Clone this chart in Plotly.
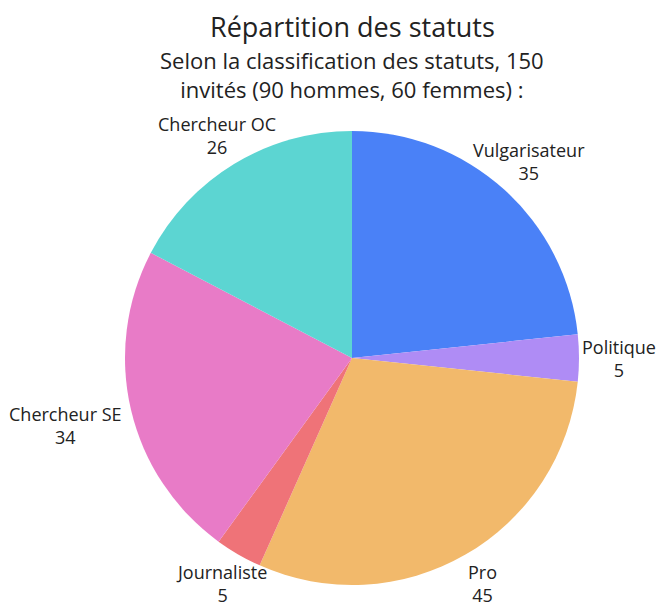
import math
import plotly.graph_objects as go

labels = ["Vulgarisateur", "Politique", "Pro", "Journaliste", "Chercheur SE", "Chercheur OC"]
values = [35, 5, 45, 5, 34, 26]
colors = ["#4A81F7", "#AF8CF5", "#F2B96B", "#EF7378", "#E87BC7", "#5CD5D2"]

title = "Répartition des statuts"
subtitle = "Selon la classification des statuts, 150<br>invités (90 hommes, 60 femmes) :"

FIG_W, FIG_H = 659, 612
T, B, L, R = 131, 27, 125, 80
W = FIG_W - L - R
H = FIG_H - T - B
radius = min(W, H) / 2
FS = 18


def text_width(s, size):
    narrow = {"i": .26, "l": .26, "j": .26, "J": .27, "t": .34, "f": .33, "r": .41, " ": .26, "s": .48}
    caps = {"C": .63, "O": .78, "S": .55, "E": .56, "P": .6, "V": .6}
    w = 0
    for ch in s:
        w += narrow.get(ch, caps.get(ch, .58))
    return w * size


fig = go.Figure(go.Pie(
    labels=labels,
    values=values,
    marker=dict(colors=colors, line=dict(width=0)),
    sort=False,
    direction="clockwise",
    rotation=0,
    textinfo="none",
    showlegend=False,
    automargin=False,
))

# Labels placed outside each slice, along the slice's mid-angle
total = sum(values)
cum = 0
half_h, gap = 21, 9
cx = L + W / 2
for lab, val in zip(labels, values):
    mid = (cum + val / 2) / total * 2 * math.pi
    cum += val
    dx, dy = math.sin(mid), math.cos(mid)
    half_w = max(text_width(lab, FS), text_width(str(val), FS)) / 2
    k = min(half_w / abs(dx) if abs(dx) > 1e-6 else 1e9,
            half_h / abs(dy) if abs(dy) > 1e-6 else 1e9)
    dist = radius + gap + k
    xs, ys = dx * dist, dy * dist
    # keep the label inside the figure horizontally
    xs = min(xs, FIG_W - 4 - half_w - cx)
    xs = max(xs, 4 + half_w - cx)
    fig.add_annotation(
        text=f"{lab}<br>{val}", x=0.5, y=0.5, xref="paper", yref="paper",
        xshift=xs, yshift=ys, showarrow=False,
        xanchor="center", yanchor="middle",
        font=dict(family="Open Sans", size=FS, color="#222222"),
    )

fig.add_annotation(text=title, x=0.5, y=(FIG_H - B - 26) / H, xref="paper", yref="paper",
                   showarrow=False, font=dict(family="Open Sans", size=27, color="#222222"),
                   xanchor="center", yanchor="middle")
fig.add_annotation(text=subtitle, x=0.5, y=(FIG_H - B - 75) / H, xref="paper", yref="paper",
                   showarrow=False, font=dict(family="Open Sans", size=22, color="#222222"),
                   xanchor="center", yanchor="middle")

fig.update_layout(
    width=FIG_W, height=FIG_H,
    margin=dict(l=L, r=R, t=T, b=B),
    paper_bgcolor="white", plot_bgcolor="white",
    font=dict(family="Open Sans"),
)

fig.write_html("out.html", config={"displayModeBar": False},
               post_script="document.body.style.margin='0';document.body.style.overflow='hidden';")
